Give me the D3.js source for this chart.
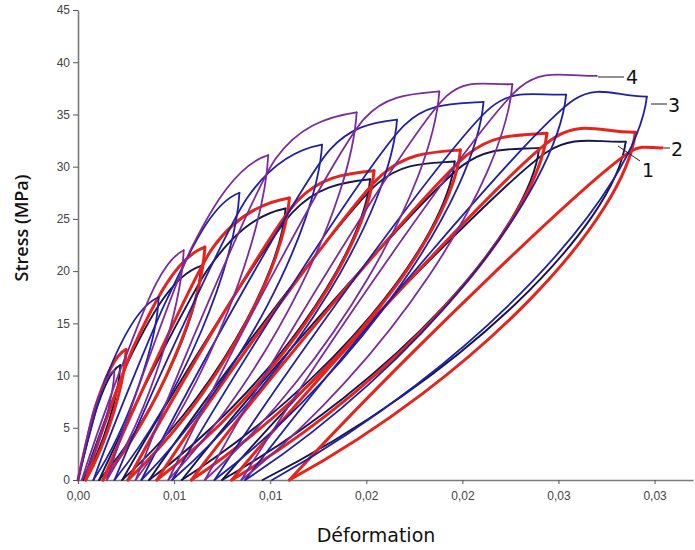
<!DOCTYPE html>
<html>
<head>
<meta charset="utf-8">
<script src="https://cdn.jsdelivr.net/npm/d3@7"></script>
<style>
    body { margin: 0; background: #fff; }
    svg { display: block; }
</style>
</head>
<body>
<svg id="chart" width="695" height="550"></svg>
<script>

// ---------------------------
// DATA
// ---------------------------

const xTicks = [0, 0.005, 0.01, 0.015, 0.02, 0.025, 0.03];
const xTickLabels = ["0,00", "0,01", "0,01", "0,02", "0,02", "0,03", "0,03"];
const yTicks = [0, 5, 10, 15, 20, 25, 30, 35, 40, 45];

// one row per loading cycle:
// [start strain, knee strain, knee stress, peak strain, peak stress, residual strain after unloading]
// residual null = test stopped at that point
const cycles1 = [
    [0,      0.0009, 6.5,  0.0022, 11.0, 0.0003],
    [0.0003, 0.0026, 11.3, 0.0064, 20.5, 0.0011],
    [0.0011, 0.0068, 20.3, 0.0108, 26.0, 0.0023],
    [0.0023, 0.0112, 25.7, 0.0152, 28.8, 0.0037],
    [0.0037, 0.0156, 28.4, 0.0196, 30.5, 0.0054],
    [0.0054, 0.0200, 30.1, 0.0240, 31.8, 0.0075],
    [0.0075, 0.0244, 31.4, 0.0285, 32.4, 0.0096]
];

const cycles2 = [
    [0,      0.0009, 7.0,  0.0025, 12.5, 0.0004],
    [0.0004, 0.0029, 12.8, 0.0066, 22.3, 0.0013],
    [0.0013, 0.0070, 22.2, 0.0110, 27.0, 0.0026],
    [0.0026, 0.0114, 26.7, 0.0154, 29.6, 0.0041],
    [0.0041, 0.0158, 29.2, 0.0199, 31.6, 0.0059],
    [0.0059, 0.0203, 31.2, 0.0244, 33.2, 0.0080],
    [0.0080, 0.0248, 32.8, 0.0290, 33.3, 0.0110],
    [0.0110, 0.0288, 31.5, 0.0304, 31.8, null]
];

const cycles3 = [
    [0,      0.0014, 9.5,  0.0042, 17.5, 0.0008],
    [0.0008, 0.0046, 17.2, 0.0084, 27.5, 0.0019],
    [0.0019, 0.0088, 27.0, 0.0127, 32.1, 0.0033],
    [0.0033, 0.0131, 31.6, 0.0166, 34.5, 0.0049],
    [0.0049, 0.0170, 34.0, 0.0211, 36.2, 0.0071],
    [0.0071, 0.0215, 35.7, 0.0254, 36.9, 0.0087],
    [0.0087, 0.0258, 36.4, 0.0296, 36.7, 0.0101]
];

const cycles4 = [
    [0,      0.0008, 6.5,  0.0019, 10.5, 0.0002],
    [0.0002, 0.0023, 11.0, 0.0055, 22.0, 0.0015],
    [0.0015, 0.0059, 22.2, 0.0099, 31.1, 0.0030],
    [0.0030, 0.0103, 30.8, 0.0145, 35.2, 0.0047],
    [0.0047, 0.0149, 34.6, 0.0188, 37.2, 0.0066],
    [0.0066, 0.0192, 36.8, 0.0226, 37.9, 0.0085],
    [0.0085, 0.0230, 37.6, 0.0270, 38.7, null]
];

// drawing order: navy first, purple on top
const curves = [
    { id: "1", color: "#16164f", width: 1.9, cycles: cycles1 },
    { id: "2", color: "#e4241d", width: 3,   cycles: cycles2 },
    { id: "3", color: "#2020a6", width: 1.8, cycles: cycles3 },
    { id: "4", color: "#7c2b9c", width: 1.8, cycles: cycles4 }
];

// ---------------------------
// SCALES & AXES
// ---------------------------

const svg = d3.select("#chart");

const xScale = d3.scaleLinear().domain([0, 0.032]).range([78, 693]);
const yScale = d3.scaleLinear().domain([0, 45]).range([480, 10]);

const yAxis = svg.append("g")
    .attr("transform", "translate(78,0)")
    .call(d3.axisLeft(yScale).tickValues(yTicks).tickSize(5).tickSizeOuter(0).tickPadding(3));

const xAxis = svg.append("g")
    .attr("transform", "translate(0,480)")
    .call(d3.axisBottom(xScale)
        .tickValues(xTicks)
        .tickFormat((d, i) => xTickLabels[i])
        .tickSize(4).tickSizeOuter(0).tickPadding(7));

[xAxis, yAxis].forEach(g => {
    g.select(".domain").attr("stroke", "#7a7a7a").attr("stroke-width", 1.6);
    g.selectAll(".tick line").attr("stroke", "#555");
    g.selectAll(".tick text")
        .attr("fill", "#444")
        .attr("font-family", "'Liberation Sans', Arial, sans-serif")
        .attr("font-size", "12px");
});

// ---------------------------
// LOOPS
// ---------------------------

// loading branch: almost straight up to the knee, then bends over to the peak
const loadPath = (c) => {
    const S = [xScale(c[0]), yScale(0)];
    const K = [xScale(c[1]), yScale(c[2])];
    const P = [xScale(c[3]), yScale(c[4])];
    const d1 = [K[0] - S[0], K[1] - S[1]];
    const d2 = [P[0] - K[0], P[1] - K[1]];
    const l1 = Math.hypot(d1[0], d1[1]);
    const l2 = Math.hypot(d2[0], d2[1]);
    let t = [2 * d1[0] / l1 + d2[0] / l2, 2 * d1[1] / l1 + d2[1] / l2];
    const lt = Math.hypot(t[0], t[1]);
    t = [t[0] / lt, t[1] / lt];

    const p = d3.path();
    p.moveTo(S[0], S[1]);
    p.bezierCurveTo(
        S[0] + d1[0] * 0.3, S[1] + d1[1] * 0.34,
        K[0] - t[0] * l1 * 0.1, K[1] - t[1] * l1 * 0.1,
        K[0], K[1]);
    p.bezierCurveTo(
        K[0] + t[0] * l2 * 0.4, K[1] + t[1] * l2 * 0.4,
        P[0] - d2[0] * 0.4, P[1] - d2[1] * 0.1,
        P[0], P[1]);
    return p.toString();
};

// unloading branch: steep drop from the peak, flattening towards zero stress
const unloadPath = (c) => {
    const P = [xScale(c[3]), yScale(c[4])];
    const R = [xScale(c[5]), yScale(0)];
    const dx = P[0] - R[0];
    const dy = R[1] - P[1];
    const p = d3.path();
    p.moveTo(P[0], P[1]);
    p.bezierCurveTo(
        P[0] - 0.03 * dx, R[1] - 0.75 * dy,
        R[0] + 0.55 * dx, R[1] - 0.3 * dy,
        R[0], R[1]);
    return p.toString();
};

const loops = svg.append("g").attr("class", "loops");

curves.forEach(curve => {
    const g = loops.append("g")
        .attr("class", `curve curve-${curve.id}`)
        .attr("fill", "none")
        .attr("stroke", curve.color)
        .attr("stroke-width", curve.width)
        .attr("stroke-linejoin", "round")
        .attr("stroke-linecap", "round");

    g.selectAll(".load")
        .data(curve.cycles)
        .join("path")
        .attr("class", "load")
        .attr("d", loadPath);

    g.selectAll(".unload")
        .data(curve.cycles.filter(c => c[5] !== null))
        .join("path")
        .attr("class", "unload")
        .attr("d", unloadPath);
});

// ---------------------------
// CURVE LABELS
// ---------------------------

const labels = [
    { id: "1", x1: 618, y1: 146, x2: 640, y2: 161, tx: 642, ty: 177 },
    { id: "2", x1: 664, y1: 148, x2: 670, y2: 148, tx: 671, ty: 156 },
    { id: "3", x1: 651, y1: 104, x2: 667, y2: 104, tx: 668, ty: 112 },
    { id: "4", x1: 598, y1: 77,  x2: 624, y2: 77,  tx: 626, ty: 84 }
];

const lab = svg.append("g").attr("class", "labels");

lab.selectAll("line")
    .data(labels)
    .join("line")
    .attr("x1", d => d.x1).attr("y1", d => d.y1)
    .attr("x2", d => d.x2).attr("y2", d => d.y2)
    .attr("stroke", "#222")
    .attr("stroke-width", 1);

lab.selectAll("text")
    .data(labels)
    .join("text")
    .attr("x", d => d.tx)
    .attr("y", d => d.ty)
    .attr("font-family", "'DejaVu Sans', sans-serif")
    .attr("font-size", "19px")
    .attr("fill", "#111")
    .text(d => d.id);

// ---------------------------
// AXIS TITLES
// ---------------------------

svg.append("text")
    .attr("x", 376)
    .attr("y", 542)
    .attr("text-anchor", "middle")
    .attr("font-family", "'DejaVu Sans', sans-serif")
    .attr("font-size", "19px")
    .attr("fill", "#111")
    .text("Déformation");

svg.append("text")
    .attr("transform", "translate(28,228) rotate(-90)")
    .attr("text-anchor", "middle")
    .attr("font-family", "'Open Sans', sans-serif")
    .attr("font-weight", 600)
    .attr("font-size", "18px")
    .attr("fill", "#111")
    .text("Stress (MPa)");

</script>
</body>
</html>
